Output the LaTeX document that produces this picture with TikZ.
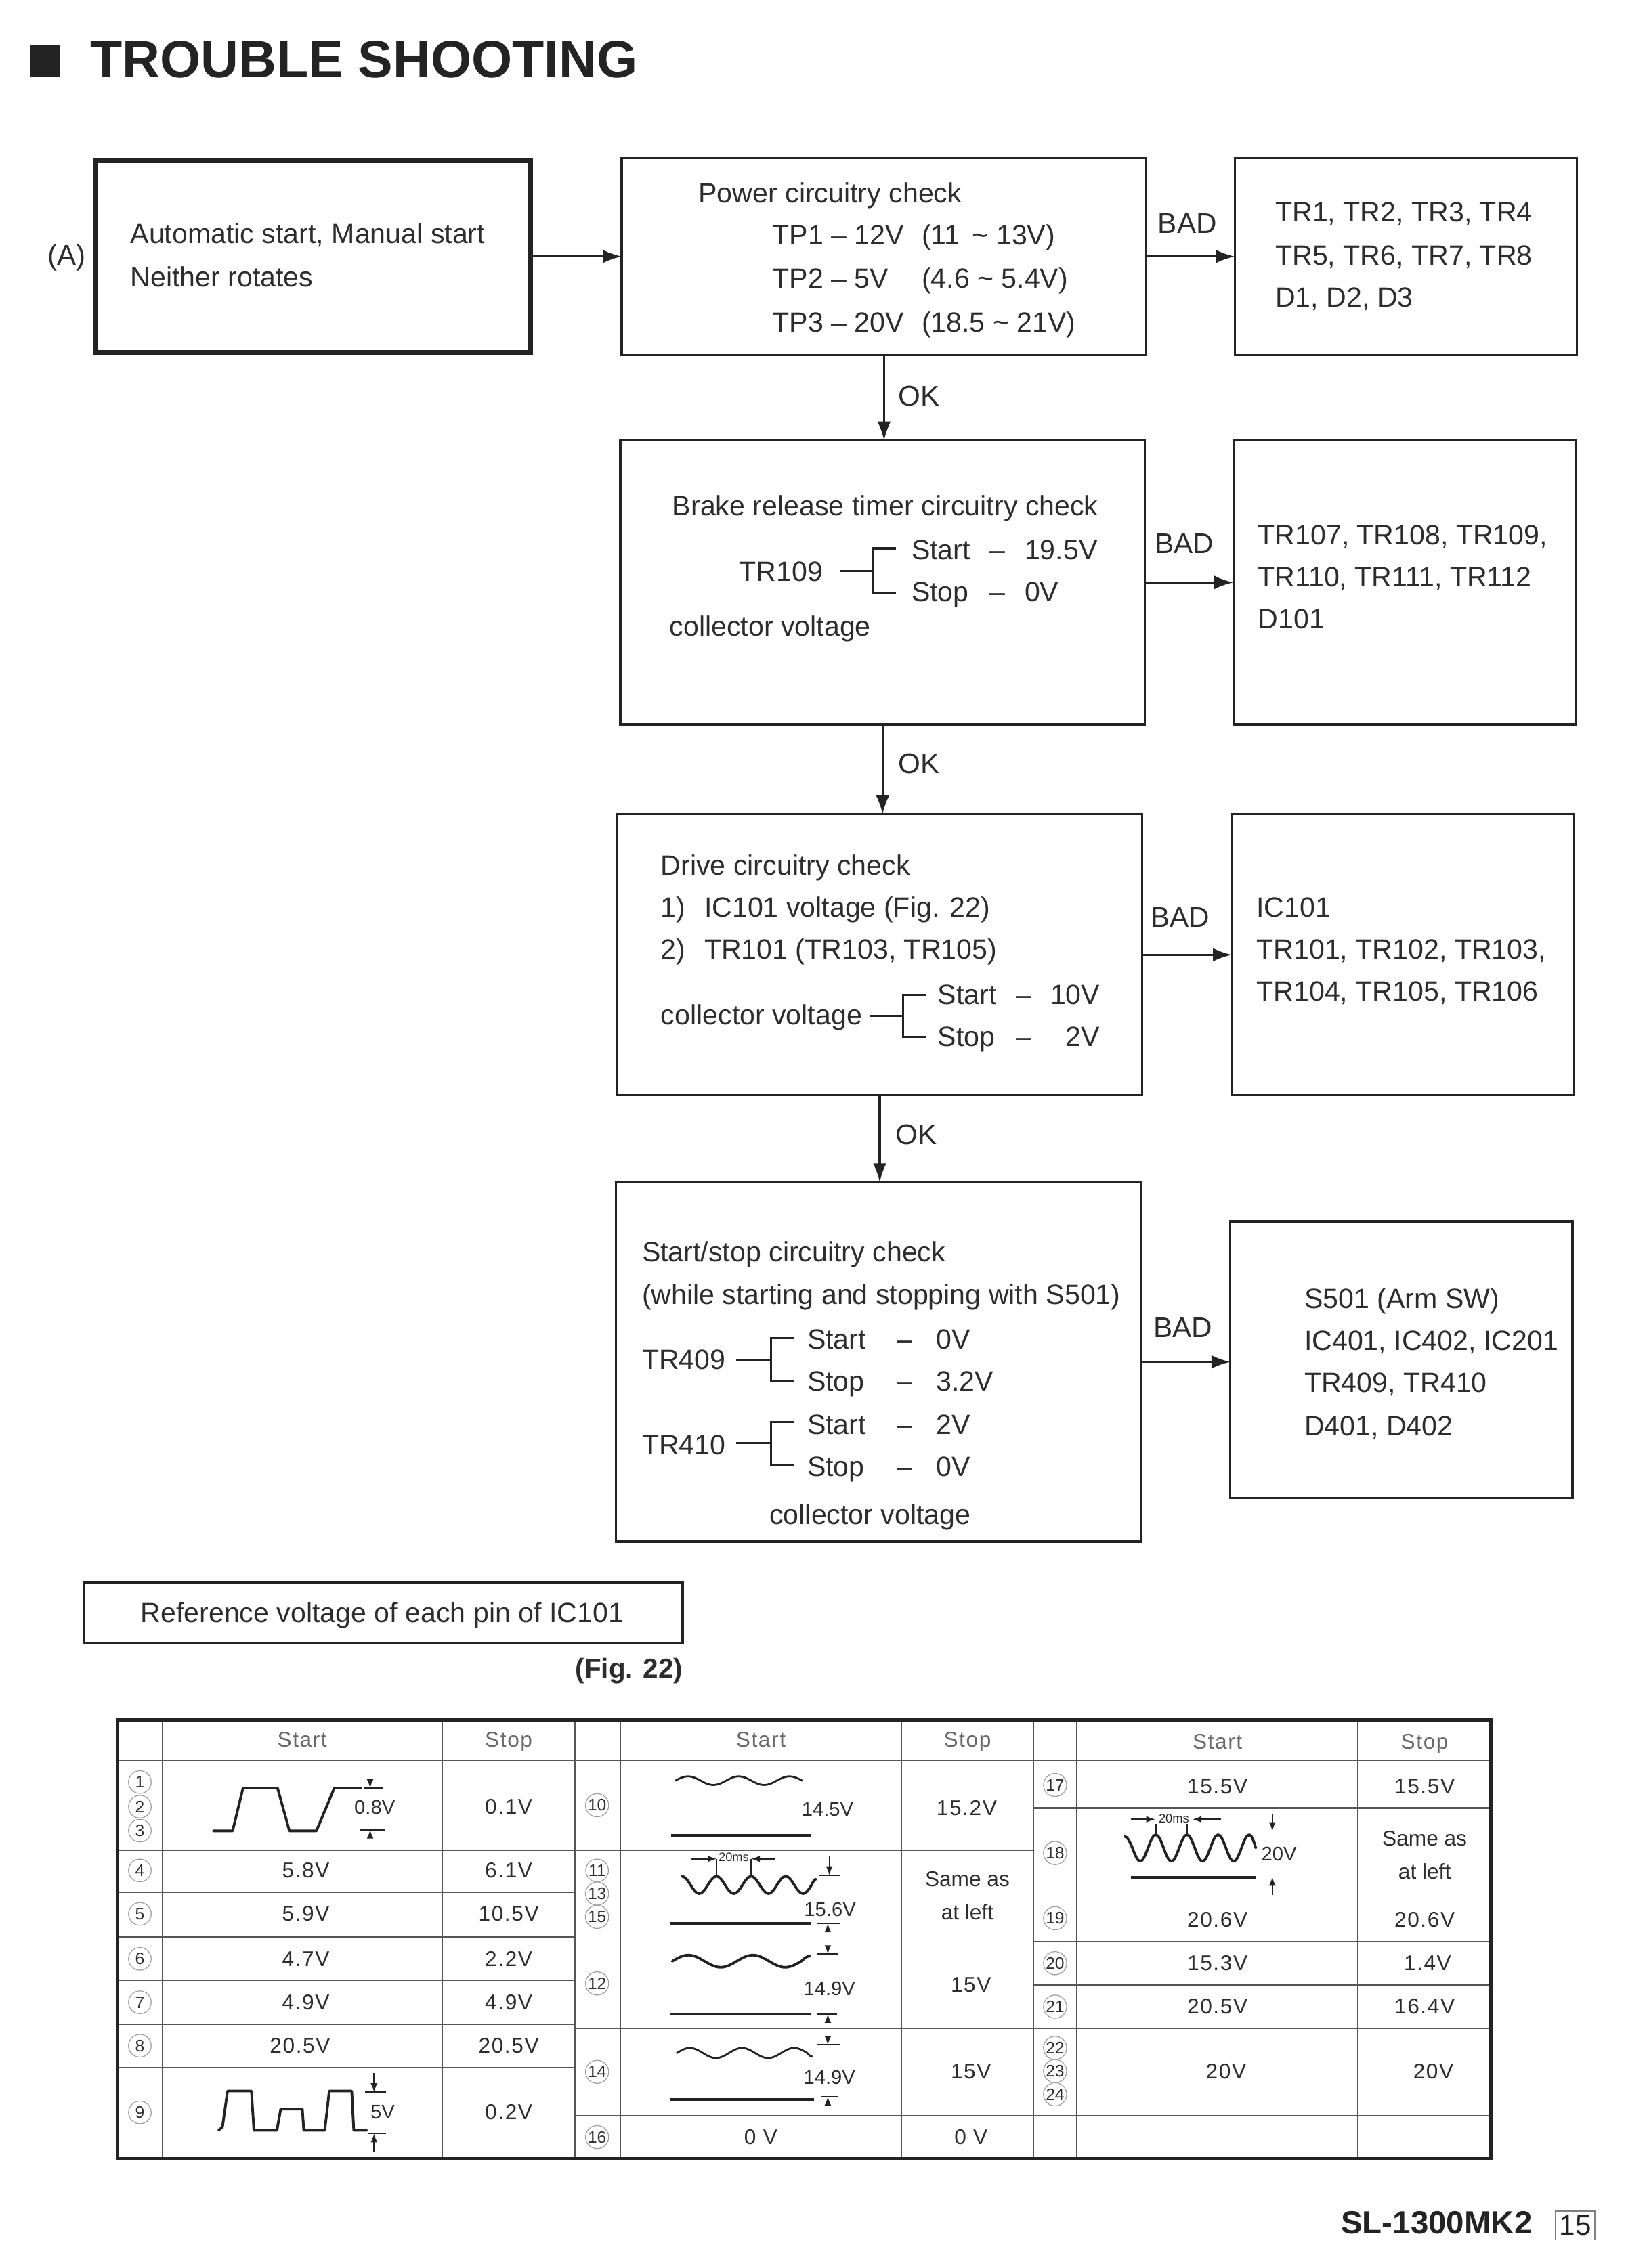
\documentclass[tikz,border=0pt]{standalone}
\usepackage{fontspec}
\setmainfont{Liberation Sans}
\newfontfamily\tabfont[LetterSpace=5]{Liberation Sans}
\usetikzlibrary{arrows.meta}
\definecolor{ink}{RGB}{35,35,35}
\definecolor{txt}{RGB}{45,45,45}
\definecolor{grid}{RGB}{85,85,85}
\definecolor{hdr}{RGB}{105,105,105}
\newcommand\bxf{\fontsize{11.7pt}{14pt}\selectfont}
\newcommand\tbf{\tabfont\fontsize{9pt}{11pt}\selectfont}
\newcommand\smf{\fontsize{8.3pt}{10pt}\selectfont}
\newcommand\tnf{\fontsize{5.2pt}{6pt}\selectfont}
\tikzset{
  frame/.style 2 args={draw=ink, line width=0.9pt, minimum width=#1*0.0214cm, minimum height=#2*0.0214cm, inner sep=0pt, outer sep=0pt},
  tx/.style={anchor=base west, inner sep=0pt, outer sep=0pt, text=txt, font=\bxf},
  lbl/.style={anchor=base west, inner sep=0pt, outer sep=0pt, text=txt, font=\fontsize{12pt}{14pt}\selectfont},
  tc/.style={anchor=base, inner sep=0pt, outer sep=0pt, text=txt, font=\tbf},
  th/.style={anchor=base, inner sep=0pt, outer sep=0pt, text=hdr, font=\tbf},
  ts/.style={anchor=base, inner sep=0pt, outer sep=0pt, text=txt, font=\smf},
  arr/.style={draw=ink, line width=0.9pt, -{Latex[length=2.8mm,width=2mm]}},
  brk/.style={draw=ink, line width=0.9pt},
  gl/.style={draw=grid, line width=0.5pt},
  gm/.style={draw=grid, line width=0.75pt},
  wv/.style={draw=ink, line width=1.1pt, line join=round, line cap=round},
  wvt/.style={draw=ink, line width=0.8pt, line join=round, line cap=round},
  bsl/.style={draw=ink, line width=1.3pt},
  dim/.style={draw=ink, line width=0.5pt},
  dimar/.style={draw=ink, line width=0.5pt, -{Latex[length=1.3mm,width=1mm]}},
  pin/.style={circle, draw=gray!75, line width=0.35pt, inner sep=0.2pt, minimum size=0.335cm, text=txt, font=\fontsize{7pt}{8pt}\selectfont},
}
\begin{document}
\begin{tikzpicture}[x=0.0214cm, y=-0.0214cm]
\useasboundingbox (0,0) rectangle (1121.5,1565.4);

% ---------- title ----------
\fill[ink] (21,31) rectangle (41.5,53);
\node[anchor=base west, inner sep=0pt, text=ink, font=\fontsize{22pt}{24pt}\selectfont\bfseries] (title) at (62,53.5) {TROUBLE SHOOTING};

% ---------- flowchart boxes ----------
\node[frame={300}{132}, line width=2pt] (A) at (216,177) {};
\node[frame={362}{136}] (P) at (610,177) {};
\node[frame={236}{136}] (PB) at (970,177) {};
\node[frame={362}{196}] (B) at (609,402) {};
\node[frame={236}{196}] (BB) at (969,402) {};
\node[frame={362}{194}] (D) at (607,659) {};
\node[frame={236}{194}] (DB) at (968,659) {};
\node[frame={362}{248}] (S) at (606,940) {};
\node[frame={236}{191}] (SB) at (967,938.5) {};

% ---------- connectors ----------
\draw[arr] (A.east) -- (A.east -| P.west);
\draw[arr] (P.east) -- (P.east -| PB.west);
\draw[arr] (B.east) -- (B.east -| BB.west);
\draw[arr] (D.east) -- (D.east -| DB.west);
\draw[arr] (S.east) -- (S.east -| SB.west);
\draw[arr] (P.south) -- (P.south |- B.north);
\draw[arr] (B.south) -- (B.south |- D.north);
\draw[arr] (D.south) -- (D.south |- S.north);

\node[lbl] (bad1) at (799,161) {BAD};
\node[lbl] (bad2) at (797,382) {BAD};
\node[lbl] (bad3) at (794,640) {BAD};
\node[lbl] (bad4) at (796,923) {BAD};
\node[lbl] (ok1) at (620,280) {OK};
\node[lbl] (ok2) at (620,534) {OK};
\node[lbl] (ok3) at (618,790) {OK};

% ---------- box A ----------
\node[lbl] (alab) at (33,183) {(A)};
\node[tx] (a1) at (90,168) {Automatic start, Manual start};
\node[tx] (a2) at (90,198) {Neither rotates};

% ---------- box P ----------
\node[tx] (p1) at (482,140) {Power circuitry check};
\node[tx] (p2) at (533,169) {TP1 – 12V};
\node[tx] (p2b) at (636,169) {(11 \,\textasciitilde\ 13V)};
\node[tx] (p3) at (533,199) {TP2 – 5V};
\node[tx] (p3b) at (636,199) {(4.6 \textasciitilde\ 5.4V)};
\node[tx] (p4) at (533,229) {TP3 – 20V};
\node[tx] (p4b) at (636,229) {(18.5 \textasciitilde\ 21V)};

\node[tx] (pb1) at (880,153) {TR1, TR2, TR3, TR4};
\node[tx] (pb2) at (880,183) {TR5, TR6, TR7, TR8};
\node[tx] (pb3) at (880,212) {D1, D2, D3};

% ---------- box B ----------
\node[tx] (b1) at (464,356) {Brake release timer circuitry check};
\node[tx] (b2) at (510,401) {TR109};
\draw[brk] (580,394) -- (602,394);
\draw[brk] (618,378.5) -- (602,378.5) -- (602,409) -- (618,409);
\node[tx] (b3) at (629,386) {Start};
\node[tx] (b3d) at (683,386) {–};
\node[tx] (b3v) at (707,386) {19.5V};
\node[tx] (b4) at (629,415) {Stop};
\node[tx] (b4d) at (683,415) {–};
\node[tx] (b4v) at (707,415) {0V};
\node[tx] (b5) at (462,439) {collector voltage};

\node[tx] (bb1) at (868,376) {TR107, TR108, TR109,};
\node[tx] (bb2) at (868,405) {TR110, TR111, TR112};
\node[tx] (bb3) at (868,434) {D101};

% ---------- box D ----------
\node[tx] (d1) at (456,604) {Drive circuitry check};
\node[tx] (d2) at (456,633) {1)};
\node[tx] (d2b) at (486,633) {IC101 voltage (Fig. 22)};
\node[tx] (d3) at (456,662) {2)};
\node[tx] (d3b) at (486,662) {TR101 (TR103, TR105)};
\node[tx] (d4) at (456,707) {collector voltage};
\draw[brk] (600,701) -- (623,701);
\draw[brk] (639,686.5) -- (623,686.5) -- (623,715.5) -- (639,715.5);
\node[tx] (d5) at (647,693) {Start};
\node[tx] (d5d) at (701,693) {–};
\node[tx, anchor=base east] (d5v) at (759,693) {10V};
\node[tx] (d6) at (647,722) {Stop};
\node[tx] (d6d) at (701,722) {–};
\node[tx, anchor=base east] (d6v) at (759,722) {2V};

\node[tx] (db1) at (867,633) {IC101};
\node[tx] (db2) at (867,662) {TR101, TR102, TR103,};
\node[tx] (db3) at (867,691) {TR104, TR105, TR106};

% ---------- box S ----------
\node[tx] (s1) at (443,871) {Start/stop circuitry check};
\node[tx] (s2) at (443,900) {(while starting and stopping with S501)};
\node[tx] (s3) at (443,945) {TR409};
\draw[brk] (508,939) -- (532,939);
\draw[brk] (548,923.5) -- (532,923.5) -- (532,953.5) -- (548,953.5);
\node[tx] (s3a) at (557,931) {Start};
\node[tx] (s3ad) at (619,931) {–};
\node[tx] (s3av) at (646,931) {0V};
\node[tx] (s3b) at (557,960) {Stop};
\node[tx] (s3bd) at (619,960) {–};
\node[tx] (s3bv) at (646,960) {3.2V};
\node[tx] (s4) at (443,1004) {TR410};
\draw[brk] (508,996) -- (532,996);
\draw[brk] (548,981.5) -- (532,981.5) -- (532,1011) -- (548,1011);
\node[tx] (s4a) at (557,990) {Start};
\node[tx] (s4ad) at (619,990) {–};
\node[tx] (s4av) at (646,990) {2V};
\node[tx] (s4b) at (557,1019) {Stop};
\node[tx] (s4bd) at (619,1019) {–};
\node[tx] (s4bv) at (646,1019) {0V};
\node[tx] (s5) at (531,1052) {collector voltage};

\node[tx] (sb1) at (900,903) {S501 (Arm SW)};
\node[tx] (sb2) at (900,932) {IC401, IC402, IC201};
\node[tx] (sb3) at (900,961) {TR409, TR410};
\node[tx] (sb4) at (900,991) {D401, D402};

% ---------- reference box ----------
\node[frame={413}{42}, line width=1.3pt] (R) at (264.5,1113) {};
\node[tx] (r1) at (97,1120) {Reference voltage of each pin of IC101};
\node[tx, font=\fontsize{11.5pt}{13pt}\selectfont\bfseries] (fig) at (397,1158) {(Fig. 22)};

% ---------- table grid ----------
\foreach \xx in {112,305,428,622,743,937} \draw[gl] (\xx,1187) -- (\xx,1490);
\foreach \xx in {397,713} \draw[gm] (\xx,1187) -- (\xx,1490);
\draw[gm] (81,1215) -- (1029,1215);
\foreach \yy in {1277,1306,1337,1367,1397,1427} \draw[gl] (81,\yy) -- (397,\yy);
\foreach \yy in {1277,1339,1400,1460} \draw[gl] (397,\yy) -- (713,\yy);
\foreach \yy in {1310,1340,1370,1400,1460} \draw[gl] (713,\yy) -- (1029,\yy);
\draw[gm] (713,1248) -- (1029,1248);
\draw[draw=ink, line width=1.5pt] (81,1187) rectangle (1029,1490);

% headers
\node[th] (h1a) at (208.5,1206) {Start};
\node[th] (h1b) at (351,1206) {Stop};
\node[th] (h2a) at (525,1206) {Start};
\node[th] (h2b) at (667.5,1206) {Stop};
\node[th] (h3a) at (840,1207) {Start};
\node[th] (h3b) at (983,1207) {Stop};

% pin numbers
\node[pin] (n1) at (96.5,1230) {1};
\node[pin] (n2) at (96.5,1247) {2};
\node[pin] (n3) at (96.5,1263.5) {3};
\node[pin] (n4) at (96.5,1291) {4};
\node[pin] (n5) at (96.5,1321) {5};
\node[pin] (n6) at (96.5,1352) {6};
\node[pin] (n7) at (96.5,1382) {7};
\node[pin] (n8) at (96.5,1412) {8};
\node[pin] (n9) at (96.5,1458) {9};
\node[pin] (n10) at (412,1246) {10};
\node[pin] (n11) at (412,1291) {11};
\node[pin] (n13) at (412,1307) {13};
\node[pin] (n15) at (412,1323) {15};
\node[pin] (n12) at (412,1369) {12};
\node[pin] (n14) at (412,1430) {14};
\node[pin] (n16) at (412,1475) {16};
\node[pin] (n17) at (728,1232) {17};
\node[pin] (n18) at (728,1279) {18};
\node[pin] (n19) at (728,1324) {19};
\node[pin] (n20) at (728,1355) {20};
\node[pin] (n21) at (728,1385) {21};
\node[pin] (n22) at (728,1413.5) {22};
\node[pin] (n23) at (728,1429.5) {23};
\node[pin] (n24) at (728,1445.5) {24};

% group 1 values
\node[tc] (v3s) at (351,1252) {0.1V};
\node[tc] (v4a) at (211,1296) {5.8V};
\node[tc] (v4b) at (351,1296) {6.1V};
\node[tc] (v5a) at (211,1326) {5.9V};
\node[tc] (v5b) at (351,1326) {10.5V};
\node[tc] (v6a) at (211,1357) {4.7V};
\node[tc] (v6b) at (351,1357) {2.2V};
\node[tc] (v7a) at (211,1387) {4.9V};
\node[tc] (v7b) at (351,1387) {4.9V};
\node[tc] (v8a) at (207,1417) {20.5V};
\node[tc] (v8b) at (351,1417) {20.5V};
\node[tc] (v9s) at (351,1463) {0.2V};

% group 2 values
\node[tc] (v10s) at (667,1253) {15.2V};
\node[tc, font=\fontsize{9pt}{11pt}\selectfont] (v11s) at (667.5,1302) {Same as};
\node[tc, font=\fontsize{9pt}{11pt}\selectfont] (v11t) at (667.5,1325) {at left};
\node[tc] (v12s) at (670,1375) {15V};
\node[tc] (v14s) at (670,1435) {15V};
\node[tc] (v16a) at (525,1480) {0 V};
\node[tc] (v16b) at (670,1480) {0 V};

% group 3 values
\node[tc] (v17a) at (840,1238) {15.5V};
\node[tc] (v17b) at (983,1238) {15.5V};
\node[tc, font=\fontsize{9pt}{11pt}\selectfont] (v18s) at (983,1274) {Same as};
\node[tc, font=\fontsize{9pt}{11pt}\selectfont] (v18t) at (983,1297) {at left};
\node[tc] (v19a) at (840,1330) {20.6V};
\node[tc] (v19b) at (983,1330) {20.6V};
\node[tc] (v20a) at (840,1360) {15.3V};
\node[tc] (v20b) at (985,1360) {1.4V};
\node[tc] (v21a) at (840,1390) {20.5V};
\node[tc] (v21b) at (983,1390) {16.4V};
\node[tc] (v22a) at (846,1435) {20V};
\node[tc] (v22b) at (989,1435) {20V};

% ---------- waveforms ----------
% pins 1-3
\draw[wv] (147.1,1263.7) -- (160.5,1263.7) -- (167.7,1234.1) -- (191.5,1234.1) -- (199.7,1263.7) -- (218.3,1263.7) -- (230.7,1234.1) -- (249.3,1234.1);
\draw[dim] (251.3,1234.1) -- (264.7,1234.1);
\draw[dimar] (255.4,1220.7) -- (255.4,1234.1);
\draw[dim] (248.2,1262.9) -- (265.8,1262.9);
\draw[dimar] (255.4,1273.6) -- (255.4,1262.9);
\node[ts] (w1) at (258.5,1252) {0.8V};

% pin 9
\draw[wv] (150.8,1470.3) -- (153.5,1468) -- (157,1443.2) -- (173.5,1443.2) -- (175.2,1470.3) -- (191.1,1470.3) -- (193.7,1455.6) -- (208.6,1455.6) -- (209.6,1470.3) -- (224.1,1470.3) -- (227.2,1443.2) -- (242.7,1443.2) -- (244.1,1470.3) -- (253,1470.3);
\draw[dim] (252,1444) -- (266.4,1444);
\draw[dimar] (258.1,1430.8) -- (258.1,1444);
\draw[dim] (254,1472.6) -- (266.4,1472.6);
\draw[dimar] (258.1,1485) -- (258.1,1472.6);
\node[ts] (w9) at (264,1462.5) {5V};

% pin 10  (c=1229, A=3)
\draw[wvt] (466,1229) sin (474.7,1226) cos (483.5,1229) sin (492.2,1232) cos (501,1229) sin (509.7,1226) cos (518.5,1229) sin (527.2,1232) cos (536,1229) sin (544.7,1226) cos (553.5,1229);
\draw[bsl] (463.3,1267) -- (559.8,1267);
\node[ts] (w10) at (571,1253.5) {14.5V};

% pins 11,13,15  (c=1301, A=6)
\draw[wv] (470.5,1295) cos (476.5,1301) sin (482.4,1307) cos (488.4,1301) sin (494.4,1295) cos (500.3,1301) sin (506.3,1307) cos (512.3,1301) sin (518.3,1295) cos (524.2,1301) sin (530.2,1307) cos (536.1,1301) sin (542.1,1295) cos (548.1,1301) sin (554.1,1307) cos (560,1301) sin (563,1297);
\draw[dimar] (476.8,1283) -- (494.4,1283);
\draw[dimar] (534.9,1283) -- (518.3,1283);
\draw[dim] (494.4,1283) -- (494.4,1295);
\draw[dim] (518.3,1283) -- (518.3,1295);
\node[anchor=center, inner sep=0.3pt, fill=white, text=txt, font=\tnf] (w11ms) at (506.3,1282) {20ms};
\draw[dim] (565,1294.2) -- (579.5,1294.2);
\draw[dimar] (572.2,1281.4) -- (572.2,1294.2);
\node[ts] (w11) at (572.7,1322.5) {15.6V};
\draw[bsl] (462.6,1327.6) -- (559.9,1327.6);
\draw[dim] (564,1327.6) -- (579.5,1327.6);
\draw[dimar] (571.2,1337) -- (571.2,1327.6);

% pin 12  (c=1353.6, A=4.2)
\draw[dimar] (571.2,1340.5) -- (571.2,1348.7);
\draw[dim] (564,1348.7) -- (578.5,1348.7);
\draw[wv] (463.9,1353.6) sin (475,1349.4) cos (486.1,1353.6) sin (497.3,1357.8) cos (508.4,1353.6) sin (519.5,1349.4) cos (530.6,1353.6) sin (541.8,1357.8) cos (552.9,1353.6) sin (559,1350);
\node[ts] (w12) at (572.3,1377.5) {14.9V};
\draw[bsl] (462.6,1390.1) -- (559.9,1390.1);
\draw[dim] (564,1390.1) -- (577.5,1390.1);
\draw[dimar] (571.2,1398.7) -- (571.2,1390.1);

% pin 14  (c=1417, A=3.5)
\draw[dimar] (571.2,1402.2) -- (571.2,1411.3);
\draw[dim] (564,1411.3) -- (579.5,1411.3);
\draw[wvt] (467,1417) sin (476,1413.5) cos (485,1417) sin (494,1420.5) cos (503,1417) sin (512,1413.5) cos (521,1417) sin (530,1420.5) cos (539,1417) sin (548,1413.5) cos (557,1417) sin (560.5,1419.5);
\node[ts] (w14) at (572.3,1438.5) {14.9V};
\draw[bsl] (462.6,1449.1) -- (561.9,1449.1);
\draw[dim] (567,1447.2) -- (578.5,1447.2);
\draw[dimar] (571.2,1457.4) -- (571.2,1447.2);

% pin 18  (c=1275.5, A=9.2)
\draw[dimar] (780.4,1255.7) -- (797,1255.7);
\draw[dimar] (842.6,1255.7) -- (822.9,1255.7);
\node[anchor=center, inner sep=0.3pt, fill=white, text=txt, font=\tnf] (w18ms) at (810,1255) {20ms};
\draw[dim] (797.5,1259) -- (797.5,1266);
\draw[dim] (819,1259) -- (819,1266);
\draw[wv] (776,1267.5) cos (781.4,1275.5) sin (786.75,1284.7) cos (792.1,1275.5) sin (797.5,1266.3) cos (802.9,1275.5) sin (808.25,1284.7) cos (813.6,1275.5) sin (819,1266.3) cos (824.4,1275.5) sin (829.75,1284.7) cos (835.1,1275.5) sin (840.5,1266.3) cos (845.9,1275.5) sin (851.25,1284.7) cos (856.6,1275.5) sin (862,1266.3) cos (866.5,1275.5);
\draw[bsl] (780.4,1296) -- (866.5,1296);
\draw[dimar] (877.9,1251.7) -- (877.9,1263.8);
\draw[dim] (871.6,1263.8) -- (886.2,1263.8);
\draw[dim] (870.6,1295.5) -- (889.3,1295.5);
\draw[dimar] (877.9,1308) -- (877.9,1295.5);
\node[ts] (w18) at (882.5,1284.5) {20V};

% ---------- footer ----------
\node[anchor=base west, inner sep=0pt, text=ink, font=\fontsize{13.5pt}{15pt}\selectfont\bfseries] (model) at (925,1542) {SL-1300MK2};
\node[draw=gray, line width=0.5pt, minimum width=27*0.0214cm, minimum height=20*0.0214cm, inner sep=0pt, text=ink, font=\fontsize{12pt}{14pt}\selectfont] (pg) at (1087,1536) {15};
\end{tikzpicture}
\end{document}
